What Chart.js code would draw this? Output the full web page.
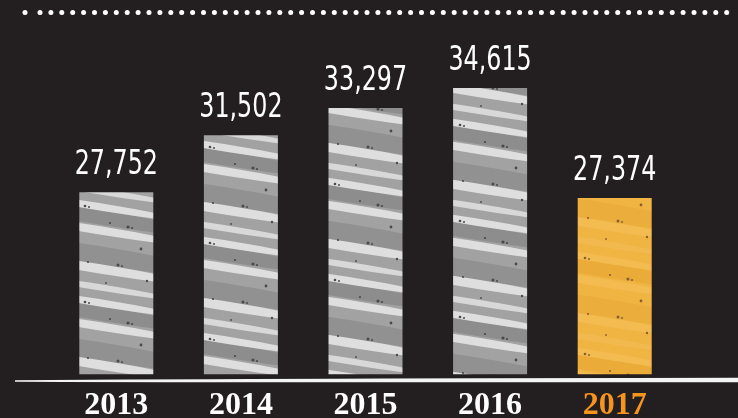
<!DOCTYPE html>
<html>
<head>
<meta charset="utf-8">
<script src="https://cdn.jsdelivr.net/npm/chart.js@4/dist/chart.umd.min.js"></script>
<style>
    html, body { margin: 0; padding: 0; background: #231f20; }
    #wrap { width: 738px; height: 418px; position: relative; }
</style>
</head>
<body>
<div id="wrap"><canvas id="yearsChart"></canvas></div>
<script>
const years = ['2013', '2014', '2015', '2016', '2017'];
const totals = [27752, 31502, 33297, 34615, 27374];
const highlightYear = '2017';

const BG = '#231f20';
const ORANGE = '#f7941d';

// textured fill for the bars (scratchy stripes, like the printed poster)
function makeTexture(colors, shiftY) {
    const c = document.createElement('canvas');
    c.width = 125;
    c.height = 96;
    const g = c.getContext('2d');
    g.fillStyle = colors.base;
    g.fillRect(0, 0, 125, 96);

    const slope = 0.16;
    function band(y0, thick, color, alpha) {
        g.globalAlpha = alpha;
        g.fillStyle = color;
        for (const off of [-96, 0, 96]) {
            g.beginPath();
            g.moveTo(0, y0 + off);
            g.quadraticCurveTo(60, y0 + off + 60 * slope - 3, 125, y0 + off + 125 * slope);
            g.lineTo(125, y0 + off + 125 * slope + thick);
            g.quadraticCurveTo(60, y0 + off + 60 * slope + thick + 2, 0, y0 + off + thick);
            g.closePath();
            g.fill();
        }
        g.globalAlpha = 1;
    }
    // broad darker smudges
    band(10, 12, colors.dark, colors.darkAlpha);
    band(46, 16, colors.dark, colors.darkAlpha * 0.8);
    // light stripes
    band(3, 5, colors.light, colors.lightAlpha);
    band(26, 6, colors.light, colors.lightAlpha);
    band(64, 7, colors.light, colors.lightAlpha);
    band(84, 4, colors.light, colors.lightAlpha * 0.9);

    // specks
    const specks = [[45, 14, 1.3], [49, 15, 1], [70, 31, 1.1], [88, 35, 1.6], [92, 36, 1.1],
        [101, 57, 1.4], [48, 70, 1.1], [78, 73, 1.5], [82, 74, 1], [107, 89, 1.2], [66, 91, 0.9]];
    g.fillStyle = colors.speck;
    specks.forEach(([x, y, r]) => {
        g.beginPath();
        g.arc(x, y, r, 0, Math.PI * 2);
        g.fill();
    });

    const ctx = document.createElement('canvas').getContext('2d');
    const pattern = ctx.createPattern(c, 'repeat');
    pattern.setTransform(new DOMMatrix([1, 0, 0, 1, 40, shiftY]));
    return pattern;
}

const grayColors = { base: '#a2a2a2', dark: '#777777', darkAlpha: 0.5, light: '#dedede', lightAlpha: 1, speck: '#4a4a4a' };
const orangeColors = { base: '#f0b443', dark: '#e6a534', darkAlpha: 0.6, light: '#f3bd55', lightAlpha: 0.7, speck: '#8a6030' };

const barFills = years.map((y, i) =>
    y === highlightYear ? makeTexture(orangeColors, i * 37) : makeTexture(grayColors, i * 37));

// dotted rule at the top, brush line under the bars, value labels
const decorPlugin = {
    id: 'decor',
    beforeDraw(chart) {
        const ctx = chart.ctx;
        ctx.save();
        ctx.fillStyle = BG;
        ctx.fillRect(0, 0, chart.width, chart.height);
        ctx.fillStyle = '#ffffff';
        const dots = [25];
        for (let x = 40; x <= 728; x += 10.9) dots.push(x);
        dots.forEach(x => {
            ctx.beginPath();
            ctx.arc(x, 12.5, 2.5, 0, Math.PI * 2);
            ctx.fill();
        });
        ctx.restore();
    },
    afterDatasetsDraw(chart) {
        const ctx = chart.ctx;
        const bottom = chart.chartArea.bottom;
        ctx.save();
        // brush stroke baseline
        ctx.fillStyle = '#f4f4f4';
        ctx.beginPath();
        ctx.moveTo(15, bottom + 6);
        ctx.quadraticCurveTo(300, bottom + 4, 738, bottom + 3.5);
        ctx.lineTo(738, bottom + 8);
        ctx.quadraticCurveTo(300, bottom + 8.5, 15, bottom + 7.5);
        ctx.closePath();
        ctx.fill();

        // value labels, squeezed to look like the narrow hand lettering
        ctx.fillStyle = '#ffffff';
        ctx.font = '34px "DejaVu Sans", sans-serif';
        ctx.textAlign = 'center';
        ctx.textBaseline = 'alphabetic';
        const meta = chart.getDatasetMeta(0);
        meta.data.forEach((bar, i) => {
            ctx.save();
            ctx.translate(bar.x, bar.y - 18);
            ctx.scale(0.7, 1);
            ctx.fillText(totals[i].toLocaleString('en-US'), 0, 0);
            ctx.restore();
        });
        ctx.restore();
    }
};

new Chart(document.getElementById('yearsChart'), {
    type: 'bar',
    data: {
        labels: years,
        datasets: [{
            data: totals,
            backgroundColor: barFills,
            borderWidth: 0,
            barPercentage: 0.594,
            categoryPercentage: 1
        }]
    },
    options: {
        responsive: true,
        maintainAspectRatio: false,
        animation: false,
        layout: {
            padding: { top: 60, left: 54, right: 61, bottom: -19 }
        },
        plugins: {
            legend: { display: false },
            tooltip: { enabled: false }
        },
        scales: {
            x: {
                grid: { display: false, drawTicks: false },
                border: { display: false },
                ticks: {
                    padding: 17,
                    color: (c) => years[c.index] === highlightYear ? ORANGE : '#ffffff',
                    font: { family: '"Liberation Serif", "DejaVu Serif", serif', weight: 'bold', size: 32, lineHeight: 0.9 }
                }
            },
            y: {
                display: false,
                min: 15800,
                max: 36450
            }
        }
    },
    plugins: [decorPlugin]
});
</script>
</body>
</html>
